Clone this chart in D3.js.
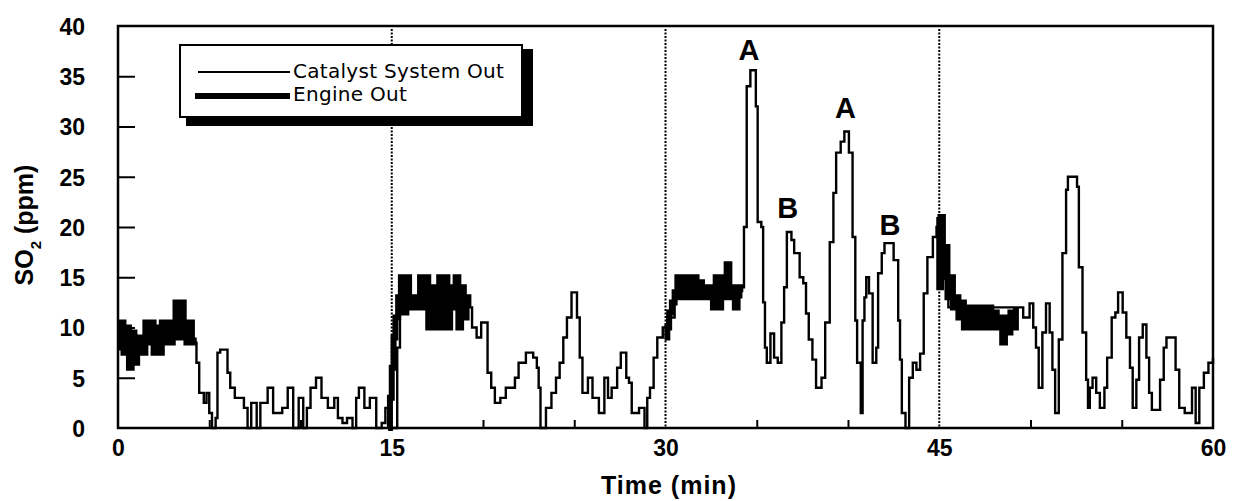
<!DOCTYPE html>
<html>
<head>
<meta charset="utf-8">
<script src="https://cdn.jsdelivr.net/npm/d3@7"></script>
<style>
  html, body { margin: 0; padding: 0; background: #fff; }
  svg { display: block; }
</style>
</head>
<body>
<svg width="1238" height="501"></svg>
<script>
// catalyst system out, [time (min), SO2 (ppm)]
const catalystOut = [
  [0, 9], [1, 9], [2, 9], [3, 9.5], [4.1, 8.5],
  [4.3, 6.5], [4.45, 3.5], [4.7, 2.5], [4.85, 3.5], [5.0, 1.5], [5.15, 0], [5.35, 1], [5.45, 7.5], [5.6, 7.8],
  [6.0, 5.5], [6.15, 4], [6.4, 3], [6.7, 3], [6.9, 2], [7.1, 0], [7.3, 2.5], [7.6, 0], [7.8, 2.5], [8.2, 4],
  [8.5, 1.5], [9.0, 2], [9.3, 4], [9.6, 0], [9.9, 3], [10.15, 0], [10.35, 2], [10.55, 4], [10.85, 5], [11.15, 3],
  [11.5, 2], [11.85, 3], [12.05, 1], [12.3, 0.5], [12.55, 1], [12.85, 0], [13.05, 3], [13.2, 4], [13.5, 2],
  [13.8, 3], [14.15, 0], [14.45, 0.5], [14.65, 2], [14.85, 0], [15.3, 8], [15.45, 12], [19.25, 12],
  [19.4, 10], [19.65, 9], [19.9, 10.5], [20.25, 5.5], [20.45, 4], [20.65, 2.5], [20.95, 3], [21.25, 4],
  [21.75, 5], [21.95, 6.5], [22.35, 7.5], [22.75, 7], [22.95, 6], [23.05, 4], [23.15, 0], [23.45, 2],
  [23.75, 3.5], [24.0, 5], [24.2, 6.5], [24.4, 9], [24.6, 11], [24.85, 13.5], [25.15, 11], [25.3, 7],
  [25.45, 3.5], [25.75, 5], [26.0, 3], [26.35, 1.5], [26.65, 5], [26.85, 3], [27.05, 4], [27.35, 6],
  [27.55, 7.5], [27.85, 5], [28.0, 4.5], [28.15, 1.5], [28.55, 2], [28.85, 0], [29.0, 3], [29.15, 4],
  [29.35, 7], [29.55, 9], [29.85, 10], [30.1, 11], [30.5, 13], [34.15, 14], [34.3, 20], [34.45, 34],
  [34.65, 35.6], [34.95, 32], [35.05, 20.5], [35.25, 20], [35.35, 12.5], [35.45, 8], [35.55, 6.5],
  [35.75, 9.4], [35.95, 7], [36.15, 6.5], [36.35, 10.5], [36.5, 14], [36.65, 19.5], [36.9, 18.7],
  [37.05, 17.4], [37.35, 15], [37.55, 14.4], [37.7, 11.4], [37.85, 8.8], [38.05, 6.8], [38.25, 4],
  [38.55, 5], [38.75, 10.5], [39.0, 18.5], [39.2, 23.4], [39.35, 27.4], [39.6, 28.5], [39.8, 29.5],
  [40.05, 27.4], [40.25, 19], [40.4, 10.7], [40.5, 6.5], [40.7, 1.5], [40.8, 10.7], [40.9, 13], [41.0, 15],
  [41.15, 13.4], [41.35, 6.5], [41.55, 8], [41.65, 15.4], [41.85, 17.4], [42.0, 18.4], [42.5, 16.7],
  [42.75, 10.7], [42.85, 6.8], [42.95, 1.5], [43.15, 0], [43.35, 5], [43.55, 6.5], [43.75, 5.8],
  [43.95, 7.4], [44.15, 13.4], [44.35, 17], [44.65, 19], [44.85, 20], [45.0, 15], [45.5, 12], [49.3, 12],
  [49.6, 11], [49.95, 12.4], [50.15, 10], [50.3, 8], [50.45, 4], [50.65, 9.5], [50.85, 12.4], [51.05, 9.5],
  [51.2, 5.8], [51.35, 1.5], [51.55, 8.8], [51.75, 17.4], [51.95, 23.7], [52.05, 25], [52.55, 24],
  [52.65, 16], [52.85, 9.5], [53.05, 4.8], [53.15, 2], [53.25, 4], [53.4, 5], [53.6, 3.5], [53.8, 2],
  [54.05, 4], [54.2, 7], [54.45, 11], [54.65, 11.5], [54.8, 13.5], [55.05, 11.5], [55.25, 9], [55.45, 6],
  [55.6, 2], [55.8, 4.8], [55.95, 9], [56.15, 10.3], [56.35, 7], [56.5, 3.5], [56.65, 1.8], [57.1, 4.8],
  [57.3, 8], [57.45, 9], [57.95, 5.8], [58.15, 2], [58.45, 1.5], [58.85, 4], [59.05, 0.5], [59.25, 4],
  [59.5, 5.5], [59.75, 6.5], [60, 7]
];

// engine out, measured in four windows
const engineOutRun1 = [
  [0, 8], [0.15, 10.5], [0.3, 7.5], [0.45, 10], [0.6, 6], [0.75, 9.5], [0.9, 6.5], [1.05, 8], [1.2, 9],
  [1.35, 7.5], [1.5, 10.5], [1.65, 8.5], [1.8, 10.5], [1.95, 7.5], [2.1, 10], [2.25, 7.5], [2.4, 10.5],
  [2.55, 8.5], [2.7, 10.5], [2.85, 8.5], [3.0, 10.5], [3.15, 12.5], [3.3, 9], [3.45, 12.5], [3.6, 10],
  [3.75, 8.5], [3.9, 10.5], [4.05, 8.5], [4.15, 9]
];
const engineOutRun2 = [
  [14.8, 0], [14.9, 3], [15.0, 6], [15.1, 9], [15.2, 11], [15.35, 13], [15.5, 15], [15.65, 11.5],
  [15.8, 15], [15.95, 12], [16.1, 13], [16.25, 12], [16.4, 13], [16.55, 15], [16.7, 12], [16.85, 15],
  [17.0, 10], [17.15, 14], [17.3, 10], [17.45, 13.5], [17.6, 15], [17.75, 10], [17.9, 15], [18.05, 10],
  [18.2, 14], [18.35, 12], [18.5, 15], [18.65, 10], [18.8, 14], [18.95, 11], [19.1, 13], [19.2, 12]
];
const engineOutRun3 = [
  [29.95, 9], [30.1, 10], [30.2, 11.5], [30.35, 12.5], [30.5, 13.5], [30.65, 15], [30.8, 13], [30.95, 15],
  [31.1, 13], [31.25, 15], [31.4, 13], [31.55, 15], [31.7, 13], [31.85, 14.5], [32.0, 13], [32.15, 14],
  [32.3, 13], [32.45, 14], [32.6, 12], [32.75, 15], [32.9, 12], [33.05, 15], [33.2, 13], [33.35, 16.3],
  [33.5, 13], [33.65, 14], [33.8, 12], [33.95, 14], [34.1, 13.5]
];
const engineOutRun4 = [
  [44.9, 21], [45.0, 14], [45.1, 21], [45.2, 15], [45.3, 18], [45.45, 13], [45.6, 15], [45.75, 12],
  [45.9, 13], [46.05, 11], [46.2, 12.5], [46.35, 10], [46.5, 12], [46.65, 10], [46.8, 12], [46.95, 10],
  [47.1, 12], [47.25, 10], [47.4, 12], [47.55, 10], [47.7, 12], [47.85, 10], [48.0, 11.5], [48.15, 10],
  [48.3, 11], [48.45, 8.5], [48.6, 11], [48.75, 9.5], [48.9, 11.5], [49.05, 10], [49.2, 12]
];

const yTicks = [0, 5, 10, 15, 20, 25, 30, 35, 40];
const xTicks = [0, 15, 30, 45, 60];
const xMinorTicks = [5, 10, 20, 25, 35, 40, 50, 55];
const phaseLines = [15, 30, 45];
const peakLabels = [
  { t: 34.58, v: 36.6, text: "A" },
  { t: 39.86, v: 30.8, text: "A" },
  { t: 36.7, v: 20.9, text: "B" },
  { t: 42.3, v: 19.2, text: "B" }
];
const seriesNames = ["Catalyst System Out", "Engine Out"];

const svg = d3.select("svg");
const plotLeft = 118, plotRight = 1213, plotTop = 26, plotBottom = 428;

const x = d3.scaleLinear().domain([0, 60]).range([plotLeft, plotRight]);
const y = d3.scaleLinear().domain([0, 40]).range([plotBottom, plotTop]);

const tickFont = "'Liberation Sans', Arial, sans-serif";

// dotted phase separators
svg.append("g")
  .selectAll("line")
  .data(phaseLines)
  .enter().append("line")
  .attr("x1", d => x(d)).attr("x2", d => x(d))
  .attr("y1", plotTop + 3).attr("y2", plotBottom)
  .attr("stroke", "#000")
  .attr("stroke-width", 2)
  .attr("stroke-dasharray", "2,1.5");

// minor ticks along the bottom, pointing up
svg.append("g")
  .attr("transform", `translate(0,${plotBottom})`)
  .call(d3.axisBottom(x).tickValues(xMinorTicks).tickSize(-8).tickFormat(""))
  .call(g => g.select(".domain").remove())
  .selectAll("line").attr("stroke-width", 2);

// y axis, ticks pointing in
const yAxis = svg.append("g")
  .attr("transform", `translate(${plotLeft},0)`)
  .call(d3.axisLeft(y).tickValues(yTicks).tickSize(-17).tickPadding(33));
yAxis.select(".domain").remove();
yAxis.selectAll(".tick line")
  .attr("stroke-width", 2)
  .filter(d => d === 0 || d === 40).remove();
yAxis.selectAll("text")
  .attr("font-family", tickFont)
  .attr("font-weight", "bold")
  .attr("font-size", 23)
  .attr("dy", "0.36em");

// x axis labels
const xAxis = svg.append("g")
  .attr("transform", `translate(0,${plotBottom})`)
  .call(d3.axisBottom(x).tickValues(xTicks).tickSize(0).tickPadding(12));
xAxis.select(".domain").remove();
xAxis.selectAll("text")
  .attr("font-family", tickFont)
  .attr("font-weight", "bold")
  .attr("font-size", 23)
  .attr("dy", "0.71em");

// frame
svg.append("rect")
  .attr("x", plotLeft).attr("y", plotTop)
  .attr("width", plotRight - plotLeft).attr("height", plotBottom - plotTop)
  .attr("fill", "none")
  .attr("stroke", "#000")
  .attr("stroke-width", 2.5);

const line = d3.line()
  .x(d => x(d[0]))
  .y(d => y(d[1]))
  .curve(d3.curveStepAfter);

svg.append("path")
  .datum(catalystOut)
  .attr("d", line)
  .attr("fill", "none")
  .attr("stroke", "#000")
  .attr("stroke-width", 2.4);

svg.append("g")
  .selectAll("path")
  .data([engineOutRun1, engineOutRun2, engineOutRun3, engineOutRun4])
  .enter().append("path")
  .attr("d", line)
  .attr("fill", "none")
  .attr("stroke", "#000")
  .attr("stroke-width", 6)
  .attr("stroke-linejoin", "miter");

// peak letters
svg.append("g")
  .selectAll("text")
  .data(peakLabels)
  .enter().append("text")
  .attr("x", d => x(d.t))
  .attr("y", d => y(d.v))
  .attr("text-anchor", "middle")
  .attr("font-family", tickFont)
  .attr("font-weight", "bold")
  .attr("font-size", 29)
  .text(d => d.text);

// legend with drop shadow
const legend = svg.append("g");
legend.append("rect")
  .attr("x", 186).attr("y", 49).attr("width", 347).attr("height", 77)
  .attr("fill", "#000");
legend.append("rect")
  .attr("x", 180).attr("y", 45).attr("width", 342).attr("height", 72)
  .attr("fill", "#fff").attr("stroke", "#000").attr("stroke-width", 2);
legend.selectAll("line")
  .data(seriesNames)
  .enter().append("line")
  .attr("x1", (d, i) => i ? 195 : 198).attr("x2", 290)
  .attr("y1", (d, i) => 72 + i * 24).attr("y2", (d, i) => 72 + i * 24)
  .attr("stroke", "#000")
  .attr("stroke-width", (d, i) => i ? 6 : 1.8);
legend.selectAll("text")
  .data(seriesNames)
  .enter().append("text")
  .attr("x", 293)
  .attr("y", (d, i) => 78 + i * 23)
  .attr("font-family", "'DejaVu Sans', Verdana, sans-serif")
  .attr("font-size", 20)
  .attr("letter-spacing", 0.3)
  .text(d => d);

// axis titles
svg.append("text")
  .attr("x", 669).attr("y", 494)
  .attr("text-anchor", "middle")
  .attr("font-family", tickFont)
  .attr("font-weight", "bold")
  .attr("font-size", 25)
  .attr("letter-spacing", 1)
  .text("Time (min)");

const yTitle = svg.append("text")
  .attr("transform", "translate(33,225) rotate(-90)")
  .attr("text-anchor", "middle")
  .attr("font-family", tickFont)
  .attr("font-weight", "bold")
  .attr("font-size", 25);
yTitle.append("tspan").text("SO");
yTitle.append("tspan").attr("font-size", 15).attr("dy", 8).text("2");
yTitle.append("tspan").attr("dy", -8).text(" (ppm)");
</script>
</body>
</html>
